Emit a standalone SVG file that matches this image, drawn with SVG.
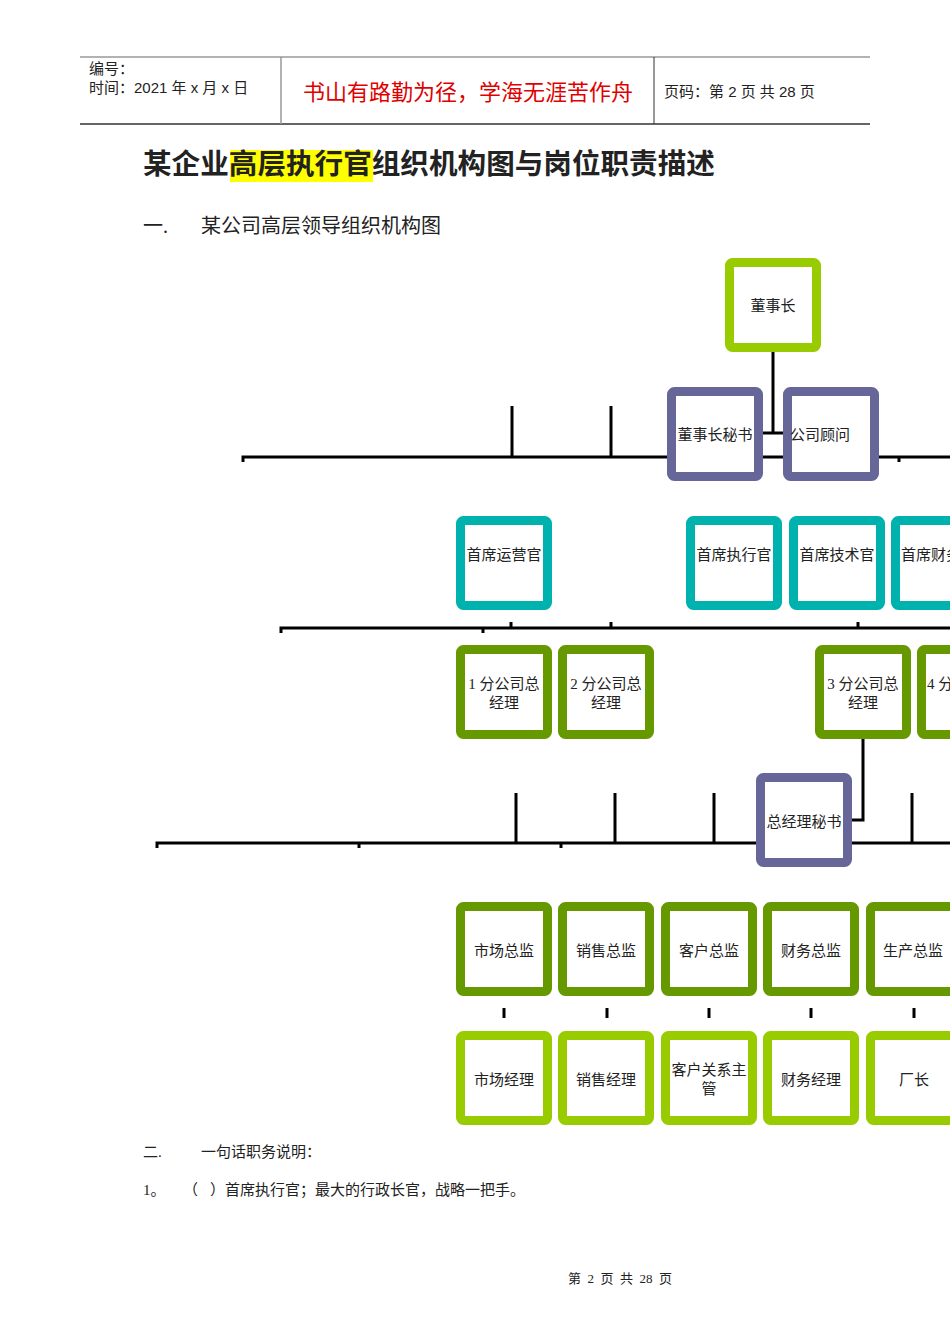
<svg xmlns="http://www.w3.org/2000/svg" width="950" height="1344" viewBox="0 0 950 1344">
<style>
text{font-family:"Liberation Serif","Noto Sans CJK SC",serif;fill:#222}
.s{font-family:"Liberation Sans","Noto Sans CJK SC",sans-serif}
.n{fill:#fff;stroke-width:9}
.lg{stroke:#99CC00}.pu{stroke:#666699}.te{stroke:#00B2AE}.dg{stroke:#669900}
.l{stroke:#000;stroke-width:3;fill:none}
.t{font-size:15px;text-anchor:middle}
</style>
<rect width="950" height="1344" fill="#fff"/>
<g id="header">
<line x1="80" y1="57" x2="870" y2="57" stroke="#999" stroke-width="1.5"/>
<line x1="80" y1="124" x2="870" y2="124" stroke="#333" stroke-width="1.5"/>
<line x1="281" y1="57" x2="281" y2="124" stroke="#999" stroke-width="1.5"/>
<line x1="654" y1="57" x2="654" y2="124" stroke="#333" stroke-width="1"/>
<text class="s" x="89" y="74" font-size="15">编号：</text>
<text class="s" x="89" y="93" font-size="15">时间：2021 年 x 月 x 日</text>
<text class="s" x="468" y="100" font-size="22" text-anchor="middle" style="fill:#E00000">书山有路勤为径，学海无涯苦作舟</text>
<text class="s" x="664" y="97" font-size="15">页码：第 2 页  共 28 页</text>
</g>
<rect x="230" y="150" width="143" height="32" fill="#FFFF00"/>
<text class="s" x="143" y="174" font-size="28.6" font-weight="bold">某企业高层执行官组织机构图与岗位职责描述</text>
<text x="143" y="233" font-size="20">一.</text>
<text x="201" y="233" font-size="20">某公司高层领导组织机构图</text>
<g id="connectors" class="l">
<path d="M773 352V433M763 433H783"/>
<path d="M243 462V457H950M512 406V457M611 406V457M899 457V462"/>
<path d="M281 633V628H950M511 622V628M611 622V628M858 622V628M483 628V633"/>
<path d="M863 739V820H852"/>
<path d="M157 848V843H950M516 793V843M615 793V843M714 793V843M912 793V843M359 843V848M561 843V848"/>
<path d="M504 1008V1018M607 1008V1018M709 1008V1018M811 1008V1018M914 1008V1018"/>
</g>
<g id="n1"><rect class="n lg" x="729.5" y="262.5" width="87" height="85" rx="3"/><text class="t" x="773" y="311">董事长</text></g>
<g id="n2"><rect class="n pu" x="671.5" y="391.5" width="87" height="85" rx="3"/><text class="t" x="715" y="440">董事长秘书</text></g>
<g id="n3"><rect class="n pu" x="787.5" y="391.5" width="87" height="85" rx="3"/><text class="t" x="820" y="440">公司顾问</text></g>
<g id="n4"><rect class="n te" x="460.5" y="520.5" width="87" height="85" rx="3"/><text class="t" x="504" y="560">首席运营官</text></g>
<g id="n5"><rect class="n te" x="690.5" y="520.5" width="87" height="85" rx="3"/><text class="t" x="734" y="560">首席执行官</text></g>
<g id="n6"><rect class="n te" x="793.5" y="520.5" width="87" height="85" rx="3"/><text class="t" x="837" y="560">首席技术官</text></g>
<g id="n7"><rect class="n te" x="895.5" y="520.5" width="87" height="85" rx="3"/><text x="901" y="560" font-size="15">首席财务官</text></g>
<g id="n8"><rect class="n dg" x="460.5" y="649.5" width="87" height="85" rx="3"/><text class="t" x="504" y="689">1 分公司总</text><text class="t" x="504" y="708">经理</text></g>
<g id="n9"><rect class="n dg" x="562.5" y="649.5" width="87" height="85" rx="3"/><text class="t" x="606" y="689">2 分公司总</text><text class="t" x="606" y="708">经理</text></g>
<g id="n10"><rect class="n dg" x="819.5" y="649.5" width="87" height="85" rx="3"/><text class="t" x="863" y="689">3 分公司总</text><text class="t" x="863" y="708">经理</text></g>
<g id="n11"><rect class="n dg" x="921.5" y="649.5" width="87" height="85" rx="3"/><text x="927" y="689" font-size="15">4 分公司总</text></g>
<g id="n12"><rect class="n pu" x="760.5" y="777.5" width="87" height="85" rx="3"/><text class="t" x="804" y="827">总经理秘书</text></g>
<g id="n13"><rect class="n dg" x="460.5" y="906.5" width="87" height="85" rx="3"/><text class="t" x="504" y="956">市场总监</text></g>
<g id="n14"><rect class="n dg" x="562.5" y="906.5" width="87" height="85" rx="3"/><text class="t" x="606" y="956">销售总监</text></g>
<g id="n15"><rect class="n dg" x="665.5" y="906.5" width="87" height="85" rx="3"/><text class="t" x="709" y="956">客户总监</text></g>
<g id="n16"><rect class="n dg" x="767.5" y="906.5" width="87" height="85" rx="3"/><text class="t" x="811" y="956">财务总监</text></g>
<g id="n17"><rect class="n dg" x="870.5" y="906.5" width="87" height="85" rx="3"/><text x="883" y="956" font-size="15">生产总监</text></g>
<g id="n18"><rect class="n lg" x="460.5" y="1035.5" width="87" height="85" rx="3"/><text class="t" x="504" y="1085">市场经理</text></g>
<g id="n19"><rect class="n lg" x="562.5" y="1035.5" width="87" height="85" rx="3"/><text class="t" x="606" y="1085">销售经理</text></g>
<g id="n20"><rect class="n lg" x="665.5" y="1035.5" width="87" height="85" rx="3"/><text class="t" x="709" y="1075">客户关系主</text><text class="t" x="709" y="1094">管</text></g>
<g id="n21"><rect class="n lg" x="767.5" y="1035.5" width="87" height="85" rx="3"/><text class="t" x="811" y="1085">财务经理</text></g>
<g id="n22"><rect class="n lg" x="870.5" y="1035.5" width="87" height="85" rx="3"/><text class="t" x="914" y="1085">厂长</text></g>
<text x="143" y="1157" font-size="15">二.</text>
<text x="201" y="1157" font-size="15">一句话职务说明：</text>
<text x="143" y="1195" font-size="15">1。</text>
<text x="183" y="1195" font-size="15">（</text>
<text x="210" y="1195" font-size="15">）首席执行官；最大的行政长官，战略一把手。</text>
<text x="620" y="1283" font-size="13" text-anchor="middle" xml:space="preserve">第  2  页  共  28  页</text>
</svg>
